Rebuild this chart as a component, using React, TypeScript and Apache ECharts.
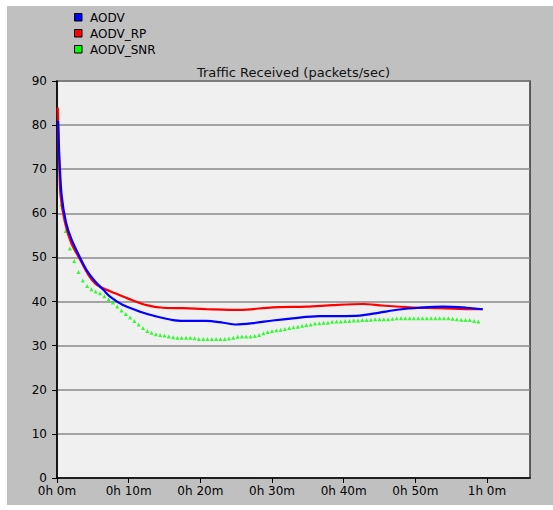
import React, { useEffect, useRef } from "react";
import * as echarts from "echarts";

const seriesNames = ["AODV", "AODV_RP", "AODV_SNR"];
const seriesColors = ["#0000ff", "#ff0000", "#00ff00"];

// [minutes, packets/sec]
const aodv: [number, number][] = [
  [0.15, 81], [0.35, 72], [0.65, 64], [1.25, 58], [2.0, 54.2], [3.2, 50], [4.1, 47.2],
  [5.3, 44.6], [6.5, 42.6], [7.4, 41.1], [9.2, 39.2], [11.6, 37.7], [13.9, 36.6], [16.2, 35.8],
  [18.5, 35.6], [20.8, 35.6], [23.2, 35.2], [25, 34.8], [27.3, 35.1], [30.1, 35.7],
  [32.9, 36.2], [36.6, 36.7], [39.4, 36.7], [42.2, 36.8], [45, 37.5], [47.8, 38.2],
  [50.6, 38.6], [53.8, 38.85], [57.1, 38.6], [59.4, 38.25],
];

const aodvRp: [number, number][] = [
  [0.1, 84], [0.3, 72], [0.5, 64], [1.1, 58], [2.0, 53.2], [3.06, 50], [4.4, 46],
  [5.4, 44], [6.2, 43.2], [8.1, 41.9], [10.2, 40.5], [12.5, 39.2], [14.8, 38.6], [17.6, 38.5],
  [20.8, 38.3], [25.5, 38.1], [30.1, 38.7], [34.8, 38.85], [38.5, 39.2], [42.7, 39.45],
  [45.4, 39.1], [49.2, 38.7], [53.3, 38.5], [57, 38.3], [59.4, 38.25],
];

// sampled every 0.6 min, starting at 0.6 min
const snrStep = 0.6;
const aodvSnr: number[] = [
  62, 56, 52, 49.2, 46.7, 44.8, 43.5, 42.8, 42.3, 41.9,
  41.2, 40.5, 39.8, 38.9, 38.0, 37.2, 36.4, 35.6, 34.8, 34.0,
  33.3, 32.9, 32.6, 32.4, 32.3, 32.1, 31.9, 31.8, 31.8, 31.8,
  31.8, 31.7, 31.5, 31.5, 31.5, 31.5, 31.5, 31.5, 31.5, 31.6,
  31.8, 32.0, 32.1, 32.1, 32.1, 32.2, 32.4, 32.8, 33.1, 33.3,
  33.5, 33.6, 33.8, 34.0, 34.2, 34.3, 34.5, 34.7, 34.8, 35.0,
  35.1, 35.2, 35.2, 35.4, 35.5, 35.5, 35.6, 35.6, 35.7, 35.7,
  35.8, 35.8, 35.9, 36.0, 36.0, 36.0, 36.0, 36.1, 36.2, 36.2,
  36.2, 36.2, 36.2, 36.2, 36.2, 36.2, 36.2, 36.2, 36.2, 36.2,
  36.2, 36.1, 36.0, 35.9, 35.8, 35.8, 35.6, 35.5,
];

const xTicks = [0, 10, 20, 30, 40, 50, 60];
const yTicks = [0, 10, 20, 30, 40, 50, 60, 70, 80, 90];
const titleText = "Traffic Received (packets/sec)";

const FONT = "DejaVu Sans";

function fmtTime(m: number): string {
  const h = Math.floor(m / 60);
  const mm = Math.round(m - h * 60);
  return `${h}h ${mm}m`;
}

export default function App() {
  const ref = useRef<HTMLDivElement>(null);
  useEffect(() => {
    if (!ref.current) return;
    const chart = echarts.init(ref.current, undefined, { renderer: "svg" });
    const snrData = aodvSnr.map((v, i) => [+(snrStep * (i + 1)).toFixed(2), v]);

    const legendGraphics: any[] = [];
    seriesNames.forEach((name, i) => {
      legendGraphics.push({
        type: "rect",
        shape: { x: 67.5, y: 7.5 + i * 16, width: 7.5, height: 7.5 },
        style: { fill: seriesColors[i], stroke: "#000", lineWidth: 1 },
      });
      legendGraphics.push({
        type: "text",
        x: 83,
        y: 11.5 + i * 16,
        style: {
          text: name,
          fill: "#000",
          font: `12px '${FONT}'`,
          textVerticalAlign: "middle",
          verticalAlign: "middle",
        },
      });
    });

    chart.setOption({
      animation: false,
      backgroundColor: "#c0c0c0",
      grid: {
        left: 50,
        top: 75,
        right: 23,
        bottom: 27,
        show: true,
        backgroundColor: "#f0f0f0",
        borderColor: "#333",
        borderWidth: 1.5,
      },
      graphic: [
        {
          type: "text",
          x: 286.5,
          y: 66,
          style: {
            text: titleText,
            fill: "#111",
            font: `13px '${FONT}'`,
            align: "center",
            textAlign: "center",
            verticalAlign: "middle",
            textVerticalAlign: "middle",
          },
        },
        ...legendGraphics,
      ],
      xAxis: {
        type: "value",
        min: 0,
        max: 66,
        interval: 10,
        axisLine: { show: true, lineStyle: { color: "#000", width: 1.5 } },
        axisTick: { show: true, length: 5, lineStyle: { color: "#000" }, customValues: xTicks },
        axisLabel: {
          color: "#000",
          fontFamily: FONT,
          fontSize: 12,
          margin: 7,
          customValues: xTicks,
          formatter: (v: number) => fmtTime(v),
        },
        splitLine: { show: false },
      },
      yAxis: {
        type: "value",
        min: 0,
        max: 90,
        interval: 10,
        axisLine: { show: true, lineStyle: { color: "#000", width: 1.5 } },
        axisTick: { show: true, length: 5, lineStyle: { color: "#000" } },
        axisLabel: {
          color: "#000",
          fontFamily: FONT,
          fontSize: 12,
          margin: 10,
          customValues: yTicks,
        },
        splitLine: { show: true, lineStyle: { color: "#8a8a8a", width: 1.5 } },
      },
      series: [
        {
          name: seriesNames[0],
          type: "line",
          data: aodv,
          smooth: 0.3,
          showSymbol: false,
          lineStyle: { color: seriesColors[0], width: 2.2 },
          z: 3,
        },
        {
          name: seriesNames[1],
          type: "line",
          data: aodvRp,
          smooth: 0.3,
          showSymbol: false,
          lineStyle: { color: seriesColors[1], width: 2.2 },
          z: 2,
        },
        {
          name: seriesNames[2],
          type: "scatter",
          data: snrData,
          symbol: "triangle",
          symbolSize: [4, 4],
          itemStyle: { color: seriesColors[2] },
          z: 1,
        },
      ],
    });
    return () => chart.dispose();
  }, []);
  return (
    <div
      ref={ref}
      style={{ position: "absolute", left: 7, top: 6, width: 546, height: 499 }}
    />
  );
}
